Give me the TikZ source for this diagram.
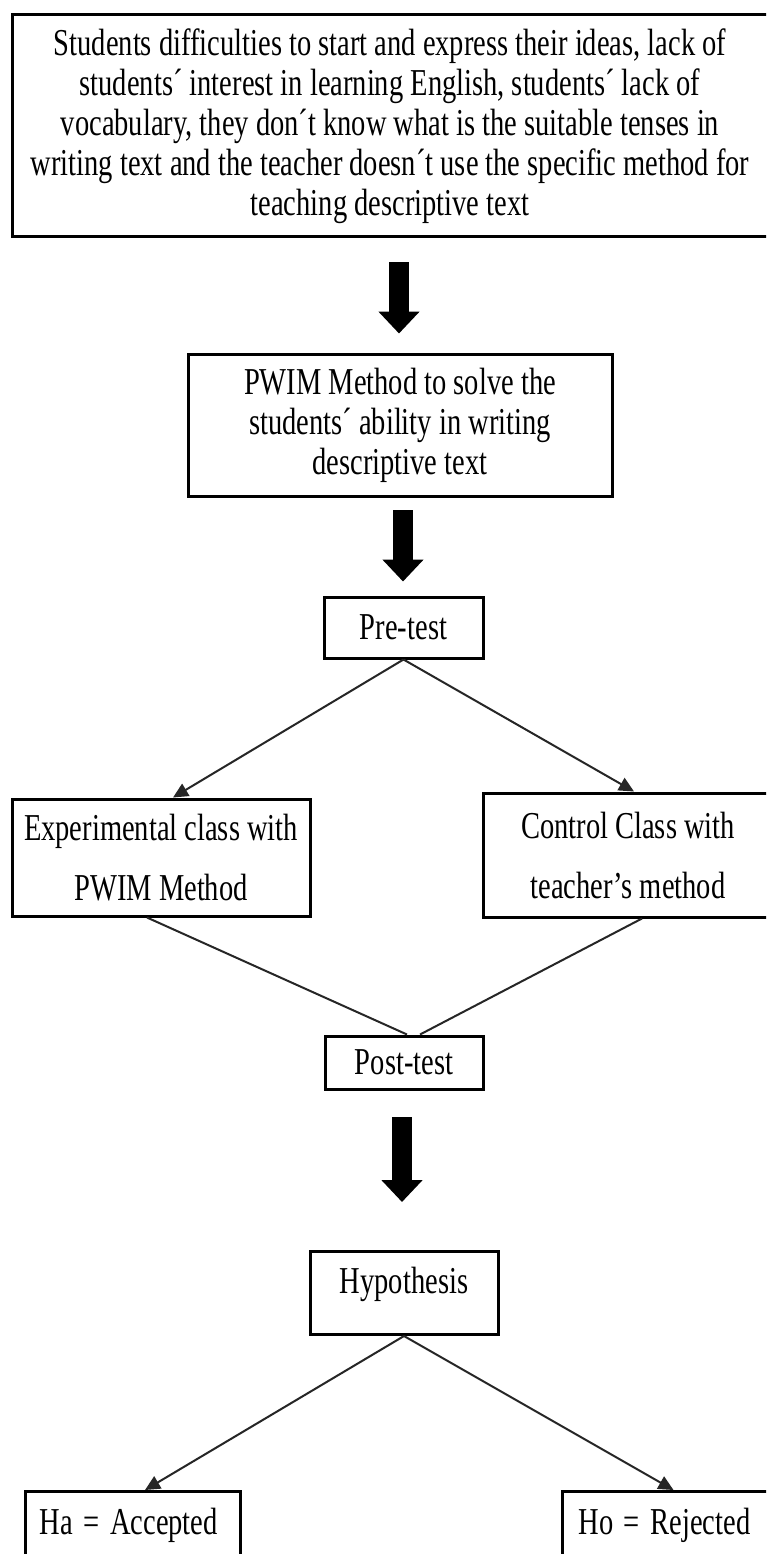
\documentclass[tikz,border=0pt]{standalone}
\usepackage{fontspec}
\setmainfont[FakeStretch=0.75]{Liberation Serif}
\usetikzlibrary{arrows.meta,calc}
\begin{document}
\begin{tikzpicture}[x=1pt,y=-1pt,
  box/.style={draw, line width=3pt, inner sep=0pt, align=center},
  txtA/.style={font=\fontsize{38}{40}\selectfont},
  txtB/.style={font=\fontsize{38}{60}\selectfont},
  block/.style={line width=20pt, -{Triangle[length=22pt,width=40pt]}},
  conn/.style={line width=2pt, draw=black!85, -{Triangle[length=15pt,width=14pt]}},
  plain/.style={line width=2pt, draw=black!85}]
\useasboundingbox (0,0) rectangle (766,1554);
\fill[white] (0,0) rectangle (766,1554);
\clip (0,0) rectangle (766,1554);

\node[box, txtA, minimum width=756pt, minimum height=222pt] (top) at (390,126)
 {Students difficulties to start and express their ideas, lack of\\
  students´ interest in learning English, students´ lack of\\
  vocabulary, they don´t know what is the suitable tenses in\\
  writing text and the teacher doesn´t use the specific method for\\
  teaching descriptive text};

\node[box, txtA, minimum width=424pt, minimum height=142pt] (pwim) at (400,425)
 {PWIM Method to solve the\\ students´ ability in writing\\ descriptive text};

\node[box, txtA, minimum width=159pt, minimum height=61pt] (pre) at (403.5,627.5) {Pre-test};

\node[box, txtB, minimum width=298pt, minimum height=117pt] (exp) at (161,857.5)
 {Experimental class with\\ PWIM Method};

\node[box, txtB, minimum width=290pt, minimum height=124pt] (ctrl) at (628,855)
 {Control Class with\\ teacher’s method};

\node[box, txtA, minimum width=158pt, minimum height=53pt] (post) at (404,1062.5) {Post-test};

\node[box, txtA, anchor=north, minimum width=188pt, text height=33pt, text depth=32pt, inner ysep=9pt] (hyp) at (404,1250) {Hypothesis};

\node[box, txtA, anchor=north west, text width=187pt, inner xsep=14pt, inner ysep=0pt, text height=43pt, text depth=40pt, align=left] (ha) at (24,1490) {Ha\kern-2pt{} = \kern-2pt{}Accepted};

\node[box, txtA, anchor=north west, text width=199pt, inner xsep=16pt, inner ysep=0pt, text height=43pt, text depth=40pt, align=left] (ho) at (561,1490) {Ho\kern-2pt{} = \kern-2pt{}Rejected};

\coordinate (a1) at (399,262);
\coordinate (a2) at (403,510);
\coordinate (a3) at (402,1117);
\draw[block, shorten >=19pt] (a1) -- (a1 |- pwim.north);
\draw[block, shorten >=14pt] (a2) -- (a2 |- pre.north);
\draw[block, shorten >=48pt] (a3) -- (a3 |- hyp.north);

\draw[conn] (pre.south) -- ([xshift=12pt]exp.north);
\draw[conn] (pre.south) -- ([xshift=6pt]ctrl.north);
\draw[plain] ([xshift=-14pt]exp.south) -- ([xshift=3pt]post.north);
\draw[plain] ([xshift=14pt]ctrl.south) -- ([xshift=16pt]post.north);
\draw[conn] (hyp.south) -- ([xshift=12pt]ha.north);
\draw[conn] (hyp.south) -- ([xshift=-4.5pt]ho.north);
\end{tikzpicture}
\end{document}
